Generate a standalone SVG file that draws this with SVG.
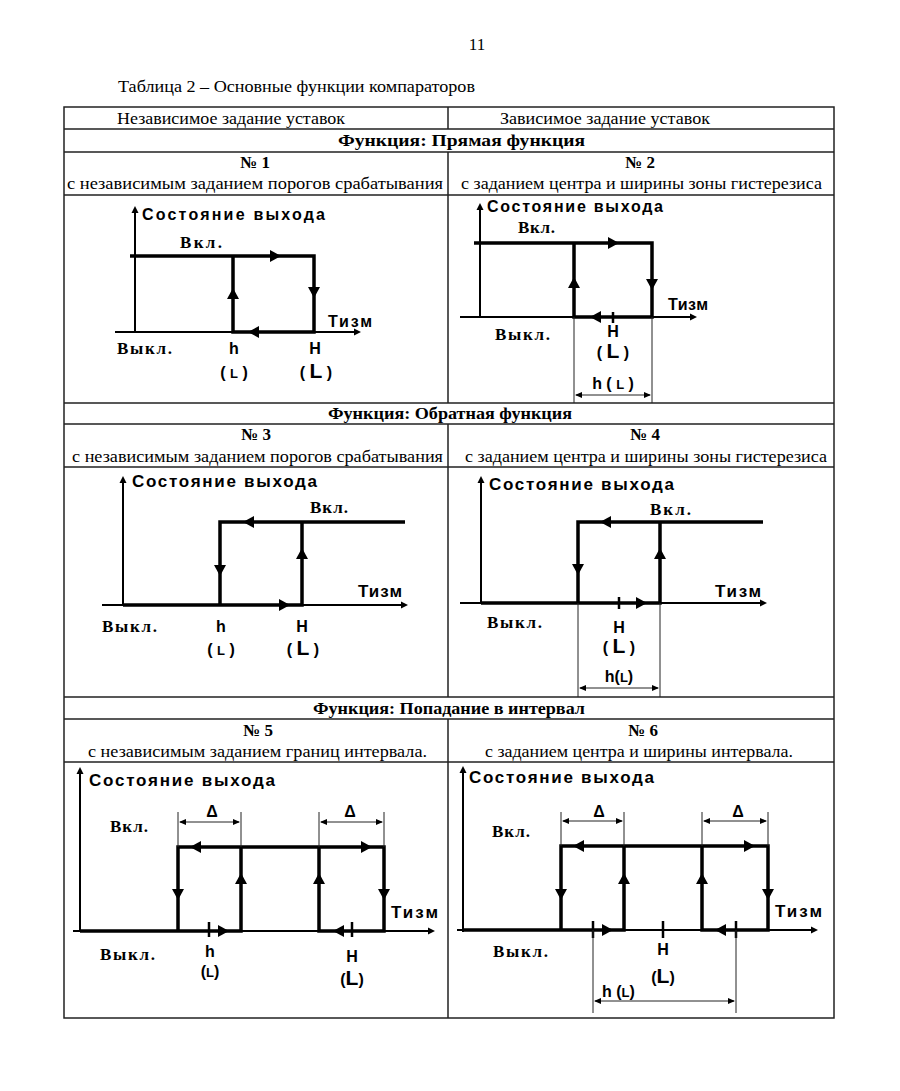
<svg xmlns="http://www.w3.org/2000/svg" xmlns:xlink="http://www.w3.org/1999/xlink" width="900" height="1091" viewBox="0 0 900 1091">
<style>
.bg{fill:#fff}
.tbl{stroke:#222;stroke-width:1.5;fill:none}
.thk{stroke:#000;stroke-width:3.5;fill:none;stroke-linejoin:miter}
.thn{stroke:#000;stroke-width:2;fill:none}
.dim{stroke:#222;stroke-width:1;fill:none}
.tick{stroke:#000;stroke-width:2.5}
.ser{font-family:"Liberation Serif","Times New Roman",serif;font-size:17px;fill:#000}
.serb{font-family:"Liberation Serif","Times New Roman",serif;font-size:17px;font-weight:bold;fill:#000}
.st{font-family:"Liberation Serif","Times New Roman",serif;font-size:17px;font-weight:bold;fill:#000}
.sn{font-family:"Liberation Sans",Arial,sans-serif;font-weight:bold;font-size:16px;fill:#000}
.sn2{font-family:"Liberation Sans",Arial,sans-serif;font-weight:bold;font-size:17px;fill:#000}
.lbl{font-family:"Liberation Sans",Arial,sans-serif;font-weight:bold;font-size:16px;fill:#000;text-anchor:middle}
.lbs{font-family:"Liberation Sans",Arial,sans-serif;font-weight:bold;font-size:16px;fill:#000}
.big{font-size:21px}
.sm{font-size:13px}
</style>
<defs>
<path id="ah" d="M0,0 L-11,-6 L-11,6 Z" fill="#000"/>
<path id="sa" d="M0,0 L-7,-3.5 L-7,3.5 Z" fill="#000"/>
<path id="da" d="M0,0 L-7,-3 L-7,3 Z" fill="#000"/>
</defs>
<rect class="bg" x="0" y="0" width="900" height="1091"/>

<g id="page-header">
<text class="ser" x="477" y="50" text-anchor="middle">11</text>
<text class="ser" x="118" y="92" textLength="357" lengthAdjust="spacingAndGlyphs">Таблица 2 – Основные функции компараторов</text>
</g>

<g id="table">
<rect class="tbl" x="64" y="107" width="770" height="911"/>
<path class="tbl" d="M64,129 H834 M64,152 H834 M64,195 H834 M64,403 H834 M64,424 H834 M64,467 H834 M64,697 H834 M64,719 H834 M64,762 H834"/>
<path class="tbl" d="M448,107 V129 M448,152 V403 M448,424 V697 M448,719 V1018"/>
<text class="ser" x="117" y="124" textLength="228" lengthAdjust="spacingAndGlyphs">Независимое задание уставок</text>
<text class="ser" x="500" y="124" textLength="210" lengthAdjust="spacingAndGlyphs">Зависимое задание уставок</text>
<text class="serb" x="338" y="146" textLength="247" lengthAdjust="spacingAndGlyphs">Функция: Прямая функция</text>
<text class="serb" x="255" y="168" text-anchor="middle">№ 1</text>
<text class="ser" x="67" y="189" textLength="376" lengthAdjust="spacingAndGlyphs">с независимым заданием порогов срабатывания</text>
<text class="serb" x="640" y="168" text-anchor="middle">№ 2</text>
<text class="ser" x="461" y="189" textLength="361" lengthAdjust="spacingAndGlyphs">с заданием центра и ширины зоны гистерезиса</text>
<text class="serb" x="328" y="419" textLength="244" lengthAdjust="spacingAndGlyphs">Функция: Обратная функция</text>
<text class="serb" x="256" y="440" text-anchor="middle">№ 3</text>
<text class="ser" x="72" y="462" textLength="371" lengthAdjust="spacingAndGlyphs">с независимым заданием порогов срабатывания</text>
<text class="serb" x="645" y="440" text-anchor="middle">№ 4</text>
<text class="ser" x="465" y="462" textLength="362" lengthAdjust="spacingAndGlyphs">с заданием центра и ширины зоны гистерезиса</text>
<text class="serb" x="313" y="714" textLength="272" lengthAdjust="spacingAndGlyphs">Функция: Попадание в интервал</text>
<text class="serb" x="258" y="736" text-anchor="middle">№ 5</text>
<text class="ser" x="88" y="757" textLength="339" lengthAdjust="spacingAndGlyphs">с независимым заданием границ интервала.</text>
<text class="serb" x="643" y="736" text-anchor="middle">№ 6</text>
<text class="ser" x="485" y="757" textLength="308" lengthAdjust="spacingAndGlyphs">с заданием центра и ширины интервала.</text>
</g>

<g id="connectors">
<!-- cell 1 -->
<path class="thn" d="M135,332 V210 M115,332 H356"/>
<use href="#sa" transform="translate(135,206) rotate(-90)"/>
<use href="#sa" transform="translate(361,332)"/>
<path class="thk" d="M130,256 H314 V332 H233 V256"/>
<use href="#ah" transform="translate(281,256)"/>
<use href="#ah" transform="translate(233,288) rotate(-90)"/>
<use href="#ah" transform="translate(314,298) rotate(90)"/>
<use href="#ah" transform="translate(248,332) rotate(180)"/>
<!-- cell 2 -->
<path class="thn" d="M480,317 V207 M460,317 H692"/>
<use href="#sa" transform="translate(480,203) rotate(-90)"/>
<use href="#sa" transform="translate(697,317)"/>
<path class="thk" d="M474,243 H652 V317 H574 V243"/>
<use href="#ah" transform="translate(619,243)"/>
<use href="#ah" transform="translate(574,277) rotate(-90)"/>
<use href="#ah" transform="translate(652,290) rotate(90)"/>
<use href="#ah" transform="translate(590,317) rotate(180)"/>
<line class="tick" x1="613" y1="312" x2="613" y2="323"/>
<path class="dim" d="M574,317 V403 M652,317 V403 M576,395 H650"/>
<use href="#da" transform="translate(575,395) rotate(180)"/>
<use href="#da" transform="translate(651,395)"/>
<!-- cell 3 -->
<path class="thn" d="M123,605 V480 M102,605 H403"/>
<use href="#sa" transform="translate(123,476) rotate(-90)"/>
<use href="#sa" transform="translate(408,605)"/>
<path class="thk" d="M220,605 V522 H405 M123,605 H302 V522"/>
<use href="#ah" transform="translate(243,522) rotate(180)"/>
<use href="#ah" transform="translate(220,576) rotate(90)"/>
<use href="#ah" transform="translate(302,548) rotate(-90)"/>
<use href="#ah" transform="translate(290,605)"/>
<!-- cell 4 -->
<path class="thn" d="M481,603 V480 M460,603 H762"/>
<use href="#sa" transform="translate(481,476) rotate(-90)"/>
<use href="#sa" transform="translate(767,603)"/>
<path class="thk" d="M578,603 V522 H763 M481,603 H660 V522"/>
<use href="#ah" transform="translate(600,522) rotate(180)"/>
<use href="#ah" transform="translate(578,575) rotate(90)"/>
<use href="#ah" transform="translate(660,548) rotate(-90)"/>
<use href="#ah" transform="translate(647,603)"/>
<line class="tick" x1="619" y1="597" x2="619" y2="609"/>
<path class="dim" d="M578,603 V697 M660,603 V697 M580,688 H658"/>
<use href="#da" transform="translate(579,688) rotate(180)"/>
<use href="#da" transform="translate(659,688)"/>
<!-- cell 5 -->
<path class="thn" d="M80,932 V771 M73,931 H430"/>
<use href="#sa" transform="translate(80,767) rotate(-90)"/>
<use href="#sa" transform="translate(435,931)"/>
<path class="thk" d="M80,931 H241 V847 M178,931 V847 H384 V931 H319 V847"/>
<use href="#ah" transform="translate(190,847) rotate(180)"/>
<use href="#ah" transform="translate(372,847)"/>
<use href="#ah" transform="translate(178,900) rotate(90)"/>
<use href="#ah" transform="translate(241,873) rotate(-90)"/>
<use href="#ah" transform="translate(319,873) rotate(-90)"/>
<use href="#ah" transform="translate(384,900) rotate(90)"/>
<use href="#ah" transform="translate(229,931)"/>
<use href="#ah" transform="translate(333,931) rotate(180)"/>
<line class="tick" x1="209" y1="922" x2="209" y2="937"/>
<line class="tick" x1="352" y1="922" x2="352" y2="937"/>
<path class="dim" d="M178,812 V847 M241,812 V847 M180,822 H239 M319,812 V847 M384,812 V847 M321,822 H382"/>
<use href="#da" transform="translate(179,822) rotate(180)"/>
<use href="#da" transform="translate(240,822)"/>
<use href="#da" transform="translate(320,822) rotate(180)"/>
<use href="#da" transform="translate(383,822)"/>
<!-- cell 6 -->
<path class="thn" d="M463,932 V770 M457,930 H813"/>
<use href="#sa" transform="translate(463,766) rotate(-90)"/>
<use href="#sa" transform="translate(818,930)"/>
<path class="thk" d="M463,930 H624 V846 M561,930 V846 H768 V930 H702 V846"/>
<use href="#ah" transform="translate(573,846) rotate(180)"/>
<use href="#ah" transform="translate(755,846)"/>
<use href="#ah" transform="translate(561,900) rotate(90)"/>
<use href="#ah" transform="translate(624,873) rotate(-90)"/>
<use href="#ah" transform="translate(702,873) rotate(-90)"/>
<use href="#ah" transform="translate(768,900) rotate(90)"/>
<use href="#ah" transform="translate(613,930)"/>
<use href="#ah" transform="translate(715,930) rotate(180)"/>
<line class="tick" x1="593" y1="921" x2="593" y2="938"/>
<line class="tick" x1="663" y1="921" x2="663" y2="938"/>
<line class="tick" x1="736" y1="921" x2="736" y2="938"/>
<path class="dim" d="M593,930 V1013 M736,930 V1013 M595,1001 H734"/>
<use href="#da" transform="translate(594,1001) rotate(180)"/>
<use href="#da" transform="translate(735,1001)"/>
<path class="dim" d="M561,812 V846 M624,812 V846 M563,821 H622 M702,812 V846 M768,812 V846 M704,821 H766"/>
<use href="#da" transform="translate(562,821) rotate(180)"/>
<use href="#da" transform="translate(623,821)"/>
<use href="#da" transform="translate(703,821) rotate(180)"/>
<use href="#da" transform="translate(767,821)"/>
</g>

<g id="node-1">
<text class="sn" x="142" y="220" textLength="183" lengthAdjust="spacing">Состояние выхода</text>
<text class="st" x="180" y="248" textLength="42" lengthAdjust="spacing">Вкл.</text>
<text class="sn" x="328" y="327" textLength="44" lengthAdjust="spacing">Тизм</text>
<text class="st" x="117" y="354" textLength="55" lengthAdjust="spacing">Выкл.</text>
<text class="lbl" x="234" y="354">h</text>
<text class="lbl" x="234" y="378">( <tspan class="sm">L</tspan> )</text>
<text class="lbl" x="315" y="354">H</text>
<text class="lbl" x="316" y="378">( <tspan class="big">L</tspan> )</text>
</g>

<g id="node-2">
<text class="sn" x="487" y="212" textLength="176" lengthAdjust="spacing">Состояние выхода</text>
<text class="st" x="518" y="233" textLength="37" lengthAdjust="spacing">Вкл.</text>
<text class="sn" x="668" y="310" textLength="40" lengthAdjust="spacing">Тизм</text>
<text class="st" x="495" y="340" textLength="55" lengthAdjust="spacing">Выкл.</text>
<text class="lbl" x="613" y="337">H</text>
<text class="lbl" x="613" y="358">( <tspan class="big">L</tspan> )</text>
<text class="lbl" x="613" y="389">h ( <tspan class="sm">L</tspan> )</text>
</g>

<g id="node-3">
<text class="sn2" x="132" y="487" textLength="185" lengthAdjust="spacing">Состояние выхода</text>
<text class="st" x="310" y="513" textLength="38" lengthAdjust="spacing">Вкл.</text>
<text class="sn2" x="358" y="597" textLength="44" lengthAdjust="spacing">Тизм</text>
<text class="st" x="102" y="632" textLength="55" lengthAdjust="spacing">Выкл.</text>
<text class="lbl" x="221" y="632">h</text>
<text class="lbl" x="221" y="655">( <tspan class="sm">L</tspan> )</text>
<text class="lbl" x="302" y="632">H</text>
<text class="lbl" x="303" y="655">( <tspan class="big">L</tspan> )</text>
</g>

<g id="node-4">
<text class="sn2" x="489" y="490" textLength="185" lengthAdjust="spacing">Состояние выхода</text>
<text class="st" x="650" y="515" textLength="41" lengthAdjust="spacing">Вкл.</text>
<text class="sn2" x="715" y="597" textLength="46" lengthAdjust="spacing">Тизм</text>
<text class="st" x="487" y="628" textLength="55" lengthAdjust="spacing">Выкл.</text>
<text class="lbl" x="619" y="633">H</text>
<text class="lbl" x="619" y="653">( <tspan class="big">L</tspan> )</text>
<text class="lbl" x="619" y="682">h(<tspan class="sm">L</tspan>)</text>
</g>

<g id="node-5">
<text class="sn2" x="89" y="786" textLength="186" lengthAdjust="spacing">Состояние выхода</text>
<text class="st" x="110" y="832" textLength="38" lengthAdjust="spacing">Вкл.</text>
<text class="sn2" x="391" y="918" textLength="47" lengthAdjust="spacing">Тизм</text>
<text class="st" x="100" y="960" textLength="55" lengthAdjust="spacing">Выкл.</text>
<text class="lbl" x="210" y="957">h</text>
<text class="lbl" x="210" y="977">(<tspan class="sm">L</tspan>)</text>
<text class="lbl" x="352" y="962">H</text>
<text class="lbl" x="352" y="985">(<tspan class="big">L</tspan>)</text>
<text class="lbl" x="212" y="817">Δ</text>
<text class="lbl" x="350" y="817">Δ</text>
</g>

<g id="node-6">
<text class="sn2" x="469" y="783" textLength="185" lengthAdjust="spacing">Состояние выхода</text>
<text class="st" x="492" y="837" textLength="38" lengthAdjust="spacing">Вкл.</text>
<text class="sn2" x="775" y="917" textLength="47" lengthAdjust="spacing">Тизм</text>
<text class="st" x="493" y="957" textLength="55" lengthAdjust="spacing">Выкл.</text>
<text class="lbl" x="663" y="955">H</text>
<text class="lbl" x="663" y="983">(<tspan class="big">L</tspan>)</text>
<text class="lbs" x="602" y="997">h  (<tspan class="sm">L</tspan>)</text>
<text class="lbl" x="599" y="817">Δ</text>
<text class="lbl" x="738" y="817">Δ</text>
</g>
</svg>
